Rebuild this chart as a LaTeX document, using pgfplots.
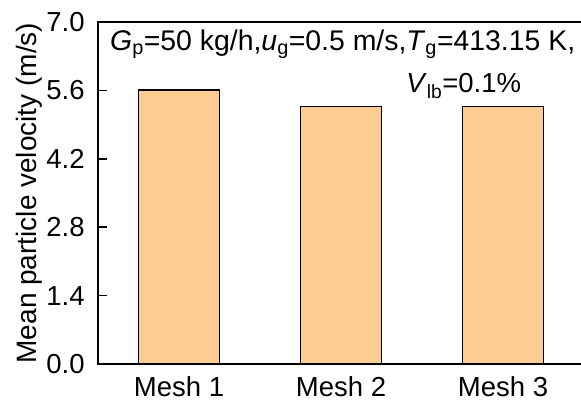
\documentclass[border=0pt]{standalone}
\usepackage{pgfplots}
\pgfplotsset{compat=1.18}
\usepackage{fontspec}
\setmainfont{Liberation Sans}
\definecolor{barfill}{RGB}{252,204,146}
\newcommand{\bigfont}{\fontsize{27.5pt}{32pt}\selectfont}
\begin{document}
\bigfont
\begin{tikzpicture}
\begin{axis}[
  at={(98pt,36pt)}, anchor=south west,
  scale only axis, width=486pt, height=342pt,
  xmin=0.5, xmax=3.5, ymin=0, ymax=7,
  xtick={1,2,3}, xticklabels={Mesh 1,Mesh 2,Mesh 3},
  ytick={0,1.4,2.8,4.2,5.6,7.0},
  yticklabel style={/pgf/number format/fixed, /pgf/number format/fixed zerofill, /pgf/number format/precision=1, xshift=-4pt},
  /pgf/number format/assume math mode=true,
  tick align=inside, ytick pos=left, major tick length=9pt,
  x tick style={draw=none},
  axis line style={line width=1.6pt},
  tick style={line width=1.6pt, black},
  ticklabel style={font=\bigfont},
  xticklabel style={inner sep=1pt, yshift=-2.2pt},
  ylabel={Mean particle velocity (m/s)},
  ylabel style={at={(axis description cs:-0.142,0.5)}, anchor=center, inner sep=1pt, font=\fontsize{28pt}{32pt}\selectfont},
  ybar, bar width=0.5,
  clip=false,
]
\addplot[fill=barfill, draw=black, line width=1.5pt] coordinates {(1,5.61) (2,5.27) (3,5.27)};
\node[anchor=base west, inner sep=0pt, font=\fontsize{28.4pt}{32pt}\selectfont]
  at (axis description cs:0.0247,0.916)
  {\textit{G}\textsubscript{p}=50 kg/h,\textit{u}\textsubscript{g}=0.5 m/s,\textit{T}\textsubscript{g}=413.15 K,};
\node[anchor=base west, inner sep=0pt, font=\bigfont]
  at (axis description cs:0.634,0.793)
  {\textit{V}\textsubscript{lb}=0.1\%};
\end{axis}
\pgfresetboundingbox
\path[use as bounding box] (0,0) rectangle (581pt,400pt);
\end{tikzpicture}
\end{document}
